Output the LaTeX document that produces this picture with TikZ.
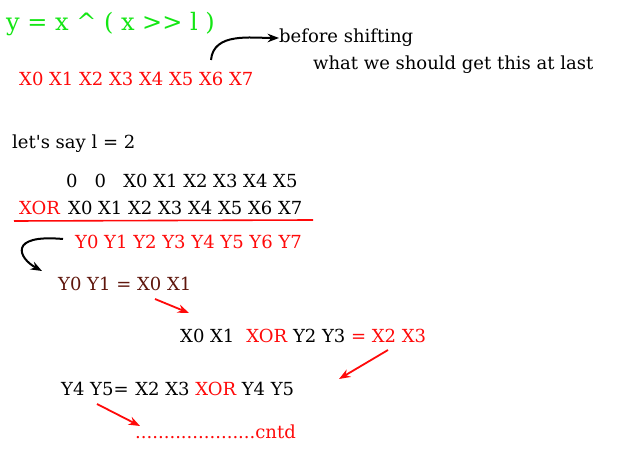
\documentclass[tikz,border=0pt]{standalone}
\usepackage{fontspec}
\setmainfont{DejaVu Serif}
\usepackage{xcolor}
\usepackage{tikz}
\usetikzlibrary{arrows.meta}

\definecolor{titlegreen}{RGB}{20,230,20}
\definecolor{notered}{RGB}{255,10,10}
\definecolor{rowbrown}{RGB}{95,22,12}

\begin{document}
\begin{tikzpicture}[
  x=1pt, y=-1pt,
  font=\fontsize{18}{21}\selectfont,
  txt/.style={anchor=west, inner sep=0pt, text=black},
  redtxt/.style={txt, text=notered},
  arr/.style={-{Stealth[length=4mm, width=3mm]}, line width=2pt, draw=black},
  redarr/.style={-{Stealth[length=4mm, width=3mm]}, line width=1.8pt, draw=notered}
]
  \useasboundingbox[fill=white] (0,0) rectangle (627,462);

  % heading and the word to shift
  \node[txt, text=titlegreen, font=\fontsize{24}{27}\selectfont] (title) at (6,24) {y = x \^{} ( x >{}>{} l )};
  \node[redtxt] (xrow) at (19,79) {X0 X1 X2 X3 X4 X5 X6 X7};
  \node[txt] (before) at (279,38) {before shifting};
  \node[txt] (goal) at (313,65) {what we should get this at last};
  \coordinate (bstart) at (211,60);
  \draw[arr] (bstart) to[out=85, in=180] (before.west);

  % shift by two and xor
  \node[txt] (say) at (12,144) {let\textquotesingle s say l = 2};
  \node[txt] (shifted) at (66,181) {0\hspace{0.95em}0\hspace{0.95em}X0 X1 X2 X3 X4 X5};
  \node[redtxt] (xor) at (19,208) {XOR};
  \node[txt] (orig) at (68,208) {X0 X1 X2 X3 X4 X5 X6 X7};
  \coordinate (lineL) at (14,221);
  \coordinate (lineR) at (313,220);
  \draw[notered, line width=1.6pt] (lineL) -- (lineR);
  \node[redtxt] (yrow) at (75,242) {Y0 Y1 Y2 Y3 Y4 Y5 Y6 Y7};

  % working back
  \coordinate (cstart) at (63,239);
  \coordinate (cend) at (42,271);
  \draw[arr] (cstart) .. controls (8,234) and (18,258) .. (cend);
  \node[txt, text=rowbrown] (step1) at (58,284) {Y0 Y1 = X0 X1};
  \node[txt] (step2) at (180,336) {X0 X1\hspace{0.35em} \textcolor{notered}{XOR} Y2 Y3 \textcolor{notered}{= X2 X3}};
  \node[txt] (step3) at (61,389) {Y4 Y5= \hspace{0.05em}X2 X3 \textcolor{notered}{XOR} Y4 Y5};
  \node[redtxt] (cntd) at (135,432) {.....................cntd};

  \coordinate (a1) at (155,299);
  \coordinate (b1) at (189,313);
  \coordinate (a2) at (388,350);
  \coordinate (b2) at (339,379);
  \coordinate (a3) at (97,404);
  \coordinate (b3) at (140,426);
  \draw[redarr] (a1) -- (b1);
  \draw[redarr] (a2) -- (b2);
  \draw[redarr] (a3) -- (b3);
\end{tikzpicture}
\end{document}
